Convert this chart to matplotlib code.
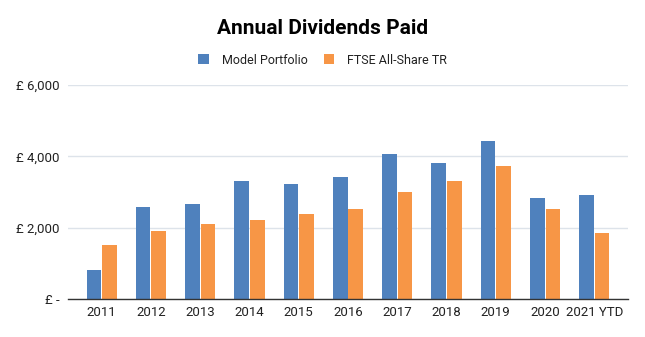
import numpy as np
import matplotlib.pyplot as plt
from matplotlib.ticker import FuncFormatter

plt.rcParams["font.family"] = ["Roboto", "DejaVu Sans"]

years = ["2011", "2012", "2013", "2014", "2015", "2016",
         "2017", "2018", "2019", "2020", "2021 YTD"]
model = [805, 2570, 2655, 3300, 3215, 3410, 4055, 3805, 4420, 2825, 2905]
ftse = [1505, 1900, 2095, 2205, 2375, 2515, 2990, 3300, 3720, 2515, 1840]

blue = "#4F81BD"
orange = "#F79646"

fig = plt.figure(figsize=(6.45, 3.37), dpi=100)
ax = fig.add_axes([68 / 645, 1 - 299 / 337, 560 / 645, 214 / 337])

x = np.arange(len(years))
w = 0.295
ax.bar(x - w / 2 - 0.01, model, width=w, color=blue, label="Model Portfolio", zorder=3)
ax.bar(x + w / 2 + 0.01, ftse, width=w, color=orange, label="FTSE All-Share TR", zorder=3)

ax.set_xlim(-0.685, len(years) - 1 + 0.685)
ax.set_ylim(0, 6000)
ax.set_yticks([0, 2000, 4000, 6000])


def pounds(v, pos):
    if v == 0:
        return "£ -"
    return f"£ {v:,.0f}"


ax.yaxis.set_major_formatter(FuncFormatter(pounds))
ax.set_xticks(x)
ax.set_xticklabels(years)
ax.tick_params(axis="both", length=0, labelsize=9.5, colors="#222222")
ax.tick_params(axis="x", pad=5)
ax.tick_params(axis="y", pad=6)

ax.grid(axis="y", color="#DDE3EA", linewidth=1, zorder=0)
for side in ["top", "right", "left"]:
    ax.spines[side].set_visible(False)
ax.spines["bottom"].set_color("#333333")
ax.spines["bottom"].set_linewidth(1)
ax.spines["bottom"].set_zorder(4)

fig.text(0.5, 1 - 29 / 337, "Annual Dividends Paid", ha="center", va="center",
         fontsize=15, fontweight="bold", color="#000000")
fig.legend(loc="center", bbox_to_anchor=(0.5, 1 - 60 / 337), ncol=2, frameon=False,
           fontsize=9, handlelength=0.85, handleheight=0.85, handletextpad=1.0,
           columnspacing=1.3, labelcolor="#222222")

fig.savefig("out.png", dpi=100)
